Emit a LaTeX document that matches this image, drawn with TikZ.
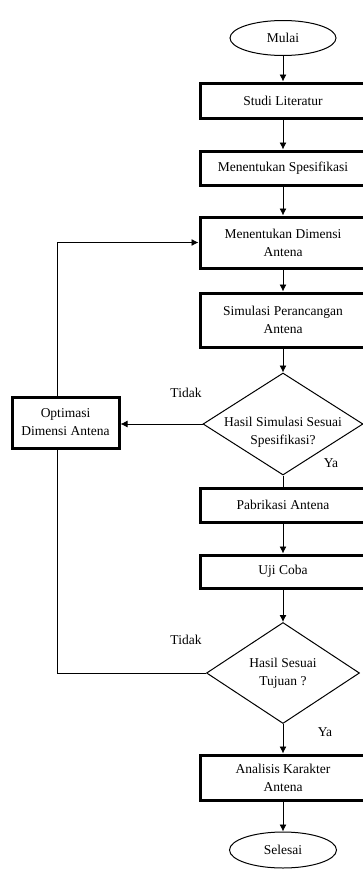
\documentclass[tikz,border=0pt]{standalone}
\usepackage{fontspec}
\setmainfont{Liberation Serif}
\usetikzlibrary{shapes.geometric,arrows.meta}

\begin{document}
\begin{tikzpicture}[x=1pt, y=-1pt, font=\fontsize{13.5}{18}\selectfont, >={Latex[length=7pt,width=7pt]},
	proses/.style={draw, line width=3pt, minimum width=166pt, align=center, inner sep=0pt},
	terminal/.style={draw, ellipse, line width=1pt, minimum width=106pt, minimum height=35pt, inner sep=0pt},
	cabang/.style={draw, diamond, line width=1pt, inner sep=0pt},
	panah/.style={->, line width=0.9pt},
	garis/.style={line width=0.9pt}]
	\useasboundingbox (0,0) rectangle (363,870);
	% alur utama
	\node[terminal] (mulai) at (283,38) {Mulai};
	\node[proses, minimum height=35pt] (studi) at (283,100.5) {Studi Literatur};
	\node[proses, minimum height=34pt] (spesifikasi) at (283,168) {Menentukan Spesifikasi};
	\node[proses, minimum height=51pt] (dimensi) at (283,242.5) {Menentukan Dimensi\\Antena};
	\node[proses, minimum height=54pt] (simulasi) at (283,320) {Simulasi Perancangan\\Antena};
	\node[cabang, minimum width=160pt, minimum height=102pt] (cek1) at (283,424) {};
	\node[align=center] (cek1teks) at (283,432) {Hasil Simulasi Sesuai\\Spesifikasi?};
	\node[proses, minimum height=34pt] (pabrikasi) at (283,505) {Pabrikasi Antena};
	\node[proses, minimum height=33pt] (uji) at (283,571.5) {Uji Coba};
	\node[cabang, minimum width=153pt, minimum height=101pt] (cek2) at (283,673) {};
	\node[align=center] (cek2teks) at (283,673) {Hasil Sesuai\\Tujuan ?};
	\node[proses, minimum height=45pt] (analisis) at (283,777.5) {Analisis Karakter\\Antena};
	\node[terminal, minimum width=107pt, minimum height=36pt] (selesai) at (283,850) {Selesai};
	% jalur perbaikan
	\node[proses, minimum width=107pt, minimum height=51pt] (optimasi) at (65.5,422.5) {Optimasi\\Dimensi Antena};
	\coordinate (kiri) at (57,422.5);
	\node (tidak1) at (186,393) {Tidak};
	\node (ya1) at (331,463) {Ya};
	\node (tidak2) at (186,640) {Tidak};
	\node (ya2) at (325,732) {Ya};

	\draw[panah] (mulai) -- (studi);
	\draw[panah] (studi) -- (spesifikasi);
	\draw[panah] (spesifikasi) -- (dimensi);
	\draw[panah] (dimensi) -- (simulasi);
	\draw[panah] (simulasi) -- (cek1.north);
	\draw[garis] (cek1.south) -- (pabrikasi);
	\draw[panah] (pabrikasi) -- (uji);
	\draw[panah] (uji) -- (cek2.north);
	\draw[panah] (cek2.south) -- (analisis);
	\draw[panah] (analisis) -- (selesai);
	\draw[panah] (cek1.west) -- (optimasi.east |- cek1.west);
	\draw[panah] (optimasi.north -| kiri) |- (dimensi.west);
	\draw[garis] (cek2.west) -| (optimasi.south -| kiri);
\end{tikzpicture}
\end{document}
